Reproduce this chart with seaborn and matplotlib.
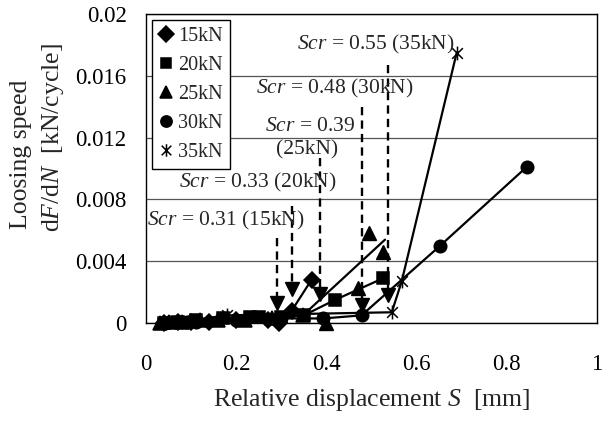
import numpy as np
import pandas as pd
import matplotlib
matplotlib.use("Agg")
import matplotlib.pyplot as plt
import seaborn as sns
from matplotlib.path import Path
from matplotlib.lines import Line2D

# data
s_15 = [0.04, 0.07, 0.10, 0.14, 0.20, 0.27, 0.295, 0.323, 0.367]
f_15 = [0.0000, 0.0001, 0.0001, 0.0001, 0.0002, 0.0002, 0.0000, 0.0008, 0.0028]

s_20 = [0.04, 0.07, 0.11, 0.17, 0.23, 0.25, 0.30, 0.35, 0.419, 0.526]
f_20 = [0.0000, 0.0001, 0.0002, 0.0003, 0.0004, 0.0004, 0.0004, 0.0005, 0.0015, 0.0029]

s_25 = [0.03, 0.05, 0.08, 0.12, 0.16, 0.22, 0.28, 0.348, 0.53]
f_25 = [0.0000, 0.0001, 0.0001, 0.0002, 0.0002, 0.0002, 0.0003, 0.0005, 0.0054]
# triangles that are not joined by the line
s_25_extra = [0.40, 0.469, 0.495, 0.526]
f_25_extra = [0.0000, 0.00225, 0.0058, 0.0046]

s_30 = [0.05, 0.09, 0.11, 0.20, 0.30, 0.393, 0.478, 0.652, 0.844]
f_30 = [0.0001, 0.0001, 0.0001, 0.0002, 0.0003, 0.0003, 0.0005, 0.0050, 0.0101]

s_35 = [0.04, 0.08, 0.179, 0.545, 0.567, 0.689]
f_35 = [0.0000, 0.0001, 0.0005, 0.0007, 0.0027, 0.0175]

loads = ["15kN", "20kN", "25kN", "30kN", "35kN"]

# critical displacement arrows (x, top of dashed line, arrow head)
scr_x = [0.29, 0.324, 0.386, 0.478, 0.537]
scr_top = [0.0055, 0.0076, 0.0107, 0.0140, 0.0167]
scr_head = [0.0013, 0.0022, 0.0019, 0.0012, 0.0018]

scr_labels = ["$Scr$ = 0.31 (15kN)", "$Scr$ = 0.33 (20kN)", "$Scr$ = 0.39",
              "(25kN)", "$Scr$ = 0.48 (30kN)", "$Scr$ = 0.55 (35kN)"]
scr_lx = [0.002, 0.073, 0.264, 0.288, 0.244, 0.334]
scr_ly = [0.00667, 0.00913, 0.01269, 0.0112, 0.0152, 0.0180]

sns.set_style("white")
plt.rcParams["font.family"] = ["Liberation Serif", "DejaVu Serif"]
plt.rcParams["mathtext.fontset"] = "custom"
plt.rcParams["mathtext.rm"] = "Liberation Serif"
plt.rcParams["mathtext.it"] = "Liberation Serif:italic"

star = Path([(-1, -1), (1, 1), (-1, 1), (1, -1), (0, -1.3), (0, 1.3)],
            [Path.MOVETO, Path.LINETO] * 3)

markers = {"15kN": ("D", 8.5), "20kN": ("s", 8), "25kN": ("^", 10),
           "30kN": ("o", 9), "35kN": (star, 10)}
series = {"15kN": (s_15, f_15), "20kN": (s_20, f_20), "25kN": (s_25, f_25),
          "30kN": (s_30, f_30), "35kN": (s_35, f_35)}

fig = plt.figure(figsize=(6.11, 4.24), dpi=100)
ax = fig.add_axes([0.239, 0.238, 0.738, 0.729])

for name in loads:
    s, f = series[name]
    m, ms = markers[name]
    df = pd.DataFrame({"S": s, "F": f})
    every = slice(0, len(s) - 1) if name == "25kN" else None
    sns.lineplot(data=df, x="S", y="F", ax=ax, color="black", marker=m,
                 markersize=ms, markeredgecolor="black", markeredgewidth=1.1,
                 linewidth=1.6, estimator=None, sort=False, markevery=every,
                 clip_on=False, zorder=3)

ax.plot(s_25_extra, f_25_extra, linestyle="none", marker="^", markersize=10,
        color="black", clip_on=False, zorder=3)

for x, y0, y1 in zip(scr_x, scr_top, scr_head):
    ax.plot([x, x], [y0, y1], color="black", linestyle=(0, (3.5, 2.2)),
            linewidth=1.7, zorder=4)
    ax.plot(x, y1, marker="v", markersize=10.5, color="black", zorder=4)

for t, x, y in zip(scr_labels, scr_lx, scr_ly):
    ax.text(x, y, t, fontsize=15.5, ha="left", va="center", zorder=5)

ax.set_xlim(0, 1)
ax.set_ylim(0, 0.02)
ax.set_xticks([0, 0.2, 0.4, 0.6, 0.8, 1.0])
ax.set_xticklabels(["0", "0.2", "0.4", "0.6", "0.8", "1"])
ax.set_yticks([0, 0.004, 0.008, 0.012, 0.016, 0.02])
ax.set_yticklabels(["0", "0.004", "0.008", "0.012", "0.016", "0.02"])
ax.tick_params(axis="x", direction="in", length=9, width=0.9, pad=22,
               labelsize=16.5, colors="black")
ax.tick_params(axis="y", length=0, pad=14, labelsize=16.5, colors="black")
ax.yaxis.grid(True, color="#555555", linewidth=0.9)
ax.set_axisbelow(True)
for sp in ax.spines.values():
    sp.set_color("black")
    sp.set_linewidth(1.0)

ax.set_xlabel("Relative displacement $S$  [mm]", fontsize=18.5, labelpad=9)
ax.set_ylabel("")
fig.text(21 / 611, 1 - 154 / 424, "Loosing speed", rotation=90,
         fontsize=18.5, ha="center", va="center")
fig.text(53 / 611, 1 - 138 / 424, "d$F$/d$N$  [kN/cycle]", rotation=90,
         fontsize=18.5, ha="center", va="center")

handles = [Line2D([], [], marker=markers[n][0], markersize=markers[n][1] * 0.9,
                  color="black", linestyle="none", markeredgewidth=1.1)
           for n in loads]
leg = ax.legend(handles, loads, loc="upper left", bbox_to_anchor=(0.013, 0.982),
                fontsize=14.5, frameon=True, fancybox=False, framealpha=1,
                edgecolor="black", handlelength=0.7, handletextpad=0.25,
                labelspacing=0.5, borderpad=0.35, borderaxespad=0)
leg.get_frame().set_linewidth(1.0)
leg.set_zorder(6)

fig.savefig("out.png", dpi=100)
